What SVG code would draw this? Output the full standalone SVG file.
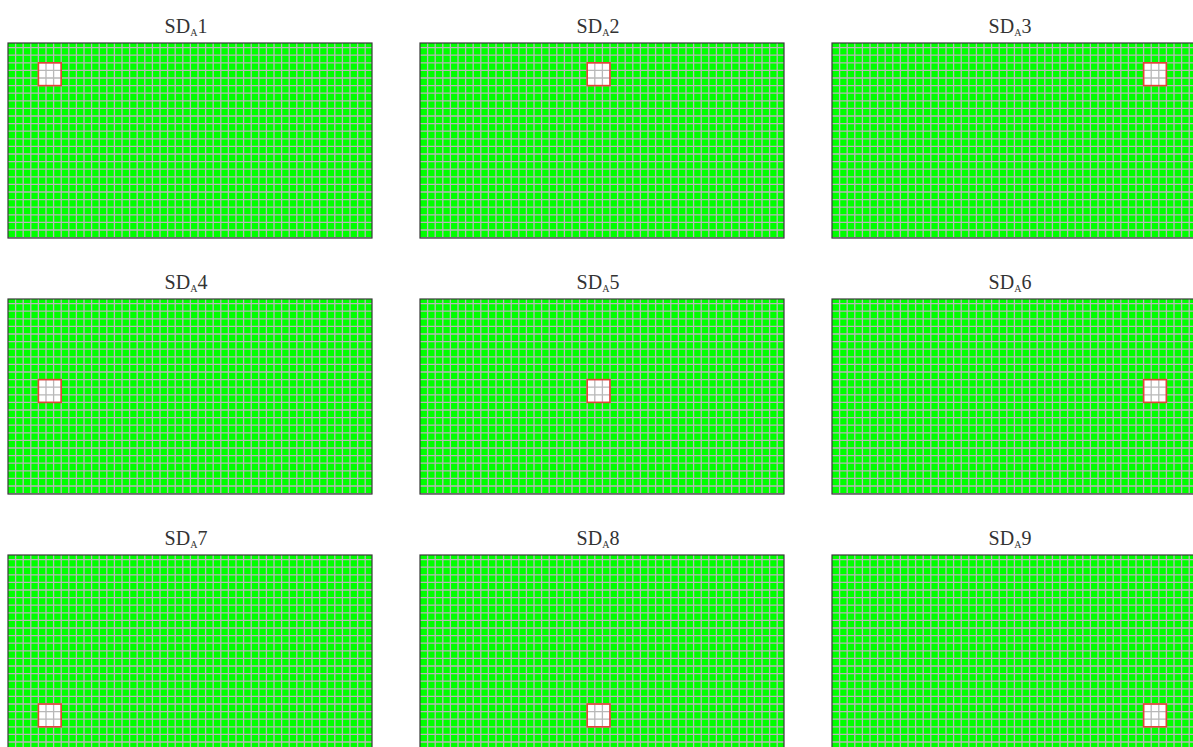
<svg xmlns="http://www.w3.org/2000/svg" xmlns:xlink="http://www.w3.org/1999/xlink" width="1193" height="747" viewBox="0 0 1193 747">
<style>
.bg{fill:#00ff00}
.gl{fill:none;stroke:#b8b8b8;stroke-width:1.3}
.frame{fill:none;stroke:#3a3a3a;stroke-width:1.2}
.cell{fill:#ffffff}
.sel{fill:none;stroke:#e8403a;stroke-width:1.6}
.title{font-family:"Liberation Serif","Times New Roman",serif;font-size:20px;fill:#333;text-anchor:middle}
.sub{font-size:10px}
</style>
<defs>
<path id="gl" class="gl" d="M7.6 0V195M15.2 0V195M22.8 0V195M30.4 0V195M38 0V195M45.6 0V195M53.2 0V195M60.8 0V195M68.4 0V195M76 0V195M83.6 0V195M91.2 0V195M98.8 0V195M106.4 0V195M114 0V195M121.6 0V195M129.2 0V195M136.8 0V195M144.4 0V195M152 0V195M159.6 0V195M167.2 0V195M174.8 0V195M182.4 0V195M190 0V195M197.6 0V195M205.2 0V195M212.8 0V195M220.4 0V195M228 0V195M235.6 0V195M243.2 0V195M250.8 0V195M258.4 0V195M266 0V195M273.6 0V195M281.2 0V195M288.8 0V195M296.4 0V195M304 0V195M311.6 0V195M319.2 0V195M326.8 0V195M334.4 0V195M342 0V195M349.6 0V195M357.2 0V195M0 4.6H364M0 12.2H364M0 19.8H364M0 27.4H364M0 35H364M0 42.6H364M0 50.2H364M0 57.8H364M0 65.4H364M0 73H364M0 80.6H364M0 88.2H364M0 95.8H364M0 103.4H364M0 111H364M0 118.6H364M0 126.2H364M0 133.8H364M0 141.4H364M0 149H364M0 156.6H364M0 164.2H364M0 171.8H364M0 179.4H364M0 187H364M0 194.6H364"/>
</defs>
<g id="panel1" transform="translate(8,43)">
<rect class="bg" width="364" height="195"/><rect class="cell" x="30.4" y="19.8" width="22.8" height="22.8"/><use href="#gl" xlink:href="#gl"/><rect class="frame" width="364" height="195"/><rect class="sel" x="30.4" y="19.8" width="22.8" height="22.8"/>
</g>
<g id="panel2" transform="translate(420,43)">
<rect class="bg" width="364" height="195"/><rect class="cell" x="167.2" y="19.8" width="22.8" height="22.8"/><use href="#gl" xlink:href="#gl"/><rect class="frame" width="364" height="195"/><rect class="sel" x="167.2" y="19.8" width="22.8" height="22.8"/>
</g>
<g id="panel3" transform="translate(832,43)">
<rect class="bg" width="364" height="195"/><rect class="cell" x="311.6" y="19.8" width="22.8" height="22.8"/><use href="#gl" xlink:href="#gl"/><rect class="frame" width="364" height="195"/><rect class="sel" x="311.6" y="19.8" width="22.8" height="22.8"/>
</g>
<g id="panel4" transform="translate(8,299)">
<rect class="bg" width="364" height="195"/><rect class="cell" x="30.4" y="80.6" width="22.8" height="22.8"/><use href="#gl" xlink:href="#gl"/><rect class="frame" width="364" height="195"/><rect class="sel" x="30.4" y="80.6" width="22.8" height="22.8"/>
</g>
<g id="panel5" transform="translate(420,299)">
<rect class="bg" width="364" height="195"/><rect class="cell" x="167.2" y="80.6" width="22.8" height="22.8"/><use href="#gl" xlink:href="#gl"/><rect class="frame" width="364" height="195"/><rect class="sel" x="167.2" y="80.6" width="22.8" height="22.8"/>
</g>
<g id="panel6" transform="translate(832,299)">
<rect class="bg" width="364" height="195"/><rect class="cell" x="311.6" y="80.6" width="22.8" height="22.8"/><use href="#gl" xlink:href="#gl"/><rect class="frame" width="364" height="195"/><rect class="sel" x="311.6" y="80.6" width="22.8" height="22.8"/>
</g>
<g id="panel7" transform="translate(8,555)">
<rect class="bg" width="364" height="195"/><rect class="cell" x="30.4" y="149" width="22.8" height="22.8"/><use href="#gl" xlink:href="#gl"/><rect class="frame" width="364" height="195"/><rect class="sel" x="30.4" y="149" width="22.8" height="22.8"/>
</g>
<g id="panel8" transform="translate(420,555)">
<rect class="bg" width="364" height="195"/><rect class="cell" x="167.2" y="149" width="22.8" height="22.8"/><use href="#gl" xlink:href="#gl"/><rect class="frame" width="364" height="195"/><rect class="sel" x="167.2" y="149" width="22.8" height="22.8"/>
</g>
<g id="panel9" transform="translate(832,555)">
<rect class="bg" width="364" height="195"/><rect class="cell" x="311.6" y="149" width="22.8" height="22.8"/><use href="#gl" xlink:href="#gl"/><rect class="frame" width="364" height="195"/><rect class="sel" x="311.6" y="149" width="22.8" height="22.8"/>
</g>
<g id="titles">
<text class="title" x="186" y="33">SD<tspan class="sub" dy="3">A</tspan><tspan dy="-3">1</tspan></text>
<text class="title" x="598" y="33">SD<tspan class="sub" dy="3">A</tspan><tspan dy="-3">2</tspan></text>
<text class="title" x="1010" y="33">SD<tspan class="sub" dy="3">A</tspan><tspan dy="-3">3</tspan></text>
<text class="title" x="186" y="289">SD<tspan class="sub" dy="3">A</tspan><tspan dy="-3">4</tspan></text>
<text class="title" x="598" y="289">SD<tspan class="sub" dy="3">A</tspan><tspan dy="-3">5</tspan></text>
<text class="title" x="1010" y="289">SD<tspan class="sub" dy="3">A</tspan><tspan dy="-3">6</tspan></text>
<text class="title" x="186" y="545">SD<tspan class="sub" dy="3">A</tspan><tspan dy="-3">7</tspan></text>
<text class="title" x="598" y="545">SD<tspan class="sub" dy="3">A</tspan><tspan dy="-3">8</tspan></text>
<text class="title" x="1010" y="545">SD<tspan class="sub" dy="3">A</tspan><tspan dy="-3">9</tspan></text>
</g>
</svg>
